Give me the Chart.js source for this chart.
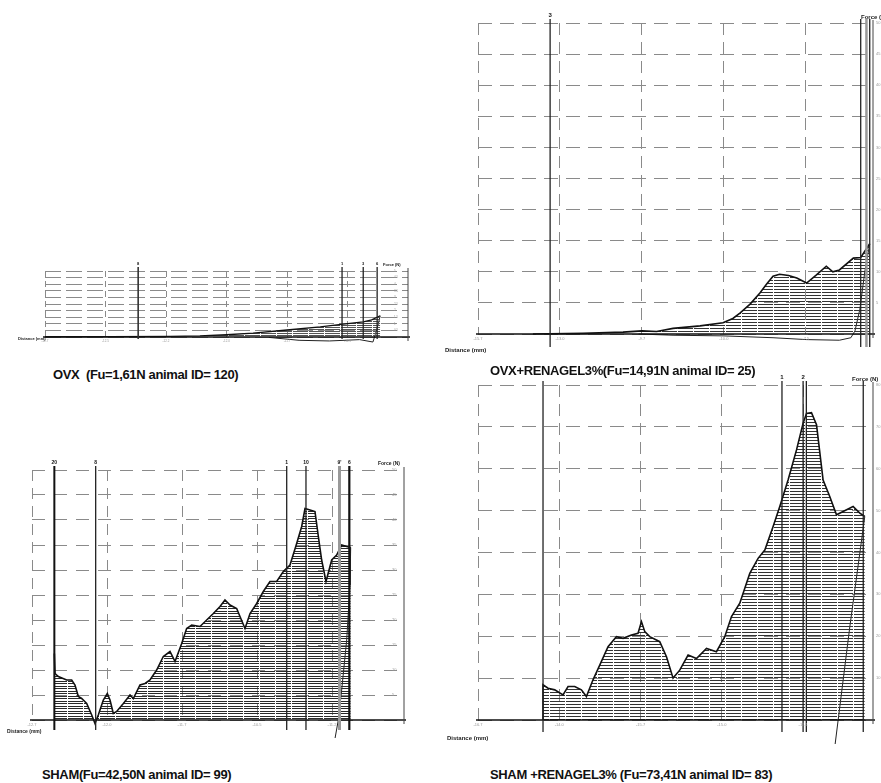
<!DOCTYPE html>
<html>
<head>
<meta charset="utf-8">
<script src="https://cdn.jsdelivr.net/npm/chart.js@4.4.0/dist/chart.umd.min.js"></script>
<style>
  body { margin: 0; background: #fff; width: 881px; height: 783px; position: relative; overflow: hidden;
         font-family: "Liberation Sans", Arial, sans-serif; }
  canvas { position: absolute; }
  .title { position: absolute; font-weight: bold; font-size: 13px; white-space: nowrap; color: #111; letter-spacing: -0.35px; }
</style>
</head>
<body>
<canvas id="ovx"></canvas>
<canvas id="ovxRen"></canvas>
<canvas id="sham"></canvas>
<canvas id="shamRen"></canvas>
<div class="title" style="left:53px;top:367px">OVX&nbsp; (Fu=1,61N animal ID= 120)</div>
<div class="title" style="left:490px;top:363px">OVX+RENAGEL3%(Fu=14,91N animal ID= 25)</div>
<div class="title" style="left:42px;top:767px">SHAM(Fu=42,50N animal ID= 99)</div>
<div class="title" style="left:490px;top:767px">SHAM +RENAGEL3% (Fu=73,41N animal ID= 83)</div>
<script>
// OVX (Fu=1,61N) - distance in grid units, force in N
const ovxDist = [0, 1.07, 2.07, 2.56, 3.0, 3.44, 4.0, 4.55, 4.93, 5.26, 5.40, 5.54];
const ovxForce = [0.02, 0.03, 0.05, 0.08, 0.17, 0.3, 0.53, 0.76, 0.98, 1.14, 1.3, 1.61];
const ovxBackDist = [5.54, 5.51, 5.46, 5.42, 5.2, 4.7, 4.2, 3.7];
const ovxBackForce = [1.61, 1.0, 0.2, -0.38, -0.2, -0.3, -0.25, -0.03];
const ovxMarks = [1.54, 4.91, 5.26, 5.49];
const ovxMarkLabels = ['8', '1', '3', '6'];
const ovxXGrid = [0, 1, 2, 3, 4, 5];
const ovxYTicks = [0, 0.5, 1, 1.5, 2, 2.5, 3, 3.5, 4, 4.5, 5];

// OVX+RENAGEL3% (Fu=14,91N)
const renDist = [0.67, 1.28, 1.77, 2.0, 2.18, 2.38, 2.71, 2.99, 3.11, 3.20, 3.32, 3.44, 3.52, 3.60, 3.68, 3.79, 3.89, 4.01, 4.13, 4.25, 4.33, 4.41, 4.58, 4.67, 4.78];
const renForce = [0, 0.1, 0.3, 0.5, 0.4, 0.9, 1.3, 1.8, 2.5, 3.4, 4.8, 6.6, 8.0, 9.3, 9.6, 9.4, 9.0, 8.2, 9.5, 10.9, 10.0, 10.3, 12.2, 12.3, 14.5];
const renBackDist = [4.78, 4.72, 4.66, 4.60, 4.55, 4.41, 4.01, 3.60, 2.99, 2.38, 1.96];
const renBackForce = [14.5, 10, 4, 0.5, -0.6, -1.0, -0.9, -0.6, -0.3, -0.2, 0];
const renMarks = [0.88, 4.67, 4.74, 4.78];
const renMarkLabels = ['3', '', '', ''];
const renXGrid = [0, 1, 2, 3, 4];
const renYTicks = [0, 5, 10, 15, 20, 25, 30, 35, 40, 45, 50];

// SHAM (Fu=42,50N)
const shamDist = [0.298, 0.307, 0.351, 0.462, 0.529, 0.573, 0.618, 0.662, 0.729, 0.796, 0.84, 0.884, 0.951, 1.004, 1.04, 1.084, 1.129, 1.218, 1.307, 1.351, 1.44, 1.507, 1.573, 1.662, 1.751, 1.84, 1.907, 1.996, 2.062, 2.129, 2.24, 2.329, 2.418, 2.507, 2.573, 2.64, 2.729, 2.773, 2.84, 2.907, 2.996, 3.084, 3.173, 3.262, 3.351, 3.44, 3.529, 3.596, 3.64, 3.707, 3.773, 3.818, 3.862, 3.92, 3.996, 4.062, 4.129, 4.196, 4.249];
const shamForce = [13.3, 9.3, 8.7, 8.0, 8.0, 7.0, 4.7, 4.3, 3.3, 1.0, -0.7, 1.0, 4.0, 5.3, 4.0, 1.3, 1.7, 3.3, 5.0, 4.3, 7.0, 7.3, 8.0, 10.0, 12.7, 13.7, 11.7, 15.3, 18.3, 19.0, 18.7, 20.0, 21.3, 22.7, 24.0, 23.0, 22.3, 20.7, 18.3, 21.3, 23.3, 25.7, 27.7, 27.7, 29.7, 31.0, 35.3, 38.7, 42.3, 42.0, 41.7, 36.7, 32.0, 27.7, 32.0, 33.0, 35.0, 34.7, 34.5];
const shamBackDist = [4.249, 4.24, 4.196, 4.129, 4.084, 4.04];
const shamBackForce = [34.5, 27, 16, 6, 0, -3.7];
const shamMarks = [0.298, 0.849, 3.396, 3.653, 4.1, 4.231];
const shamMarkLabels = ['20', '8', '1', '10', "9'", '6'];
const shamXGrid = [0, 1, 2, 3, 4];
const shamYTicks = [0, 5, 10, 15, 20, 25, 30, 35, 40, 45, 50];

// SHAM +RENAGEL3% (Fu=73,41N)
const shRenDist = [0.80, 0.80, 0.862, 0.944, 1.046, 1.108, 1.19, 1.272, 1.334, 1.415, 1.498, 1.6, 1.703, 1.785, 1.888, 1.969, 2.011, 2.052, 2.113, 2.236, 2.319, 2.4, 2.482, 2.585, 2.688, 2.811, 2.934, 3.036, 3.119, 3.221, 3.344, 3.446, 3.529, 3.631, 3.713, 3.815, 3.919, 4.0, 4.042, 4.103, 4.165, 4.246, 4.329, 4.411, 4.492, 4.615, 4.698, 4.759];
const shRenForce = [0, 8.4, 7.6, 7.2, 6.0, 8.0, 8.0, 7.2, 5.6, 9.6, 13.1, 17.5, 19.9, 19.5, 20.3, 20.7, 23.5, 21.1, 19.9, 18.7, 15.1, 10.0, 11.9, 15.5, 14.7, 17.1, 16.3, 19.9, 24.7, 27.9, 35.0, 38.6, 40.6, 46.2, 51.0, 57.3, 64.5, 70.9, 73.2, 73.4, 70.5, 57.3, 53.3, 49.0, 49.8, 51.0, 49.4, 48.6];
const shRenBackDist = [4.759, 4.575, 4.39];
const shRenBackForce = [48.6, 22.3, -6.4];
const shRenMarks = [0.80, 3.74, 4.0, 4.04, 4.74];
const shRenMarkLabels = ['', '1', '2', '', ''];
const shRenXGrid = [0, 1, 2, 3, 4];
const shRenYTicks = [0, 10, 20, 30, 40, 50, 60, 70, 80];

// tiny axis tick texts (barely legible in the scan)
const ovxXLabels = ['-12.7', '-12.5', '-12.2', '-12.0', '-11.7', '-11.5'];
const renXLabels = ['-15.7', '-13.0', '-9.7', '-10.0', '-7.5'];
const shamXLabels = ['-12.7', '-12.0', '-11.7', '-10.5', '-11.2'];
const shRenXLabels = ['-16.7', '-14.0', '-15.7', '-15.0', '-12.1'];

function pts(xs, ys) { return xs.map((x, i) => ({ x: x, y: ys[i] })); }

// horizontal-line hatching used under the curves
function hatch(rows, h, color) {
  const c = document.createElement('canvas');
  c.width = 16; c.height = h;
  const g = c.getContext('2d');
  g.fillStyle = color;
  rows.forEach(r => g.fillRect(0, r, 15, 1));
  return g.createPattern(c, 'repeat');
}

function decor(o) {
  return {
    id: 'decor',
    afterDatasetsDraw(chart) {
      const ctx = chart.ctx, a = chart.chartArea;
      const xs = chart.scales.x, ys = chart.scales.y;
      const y0 = ys.getPixelForValue(0);
      ctx.save();
      // base line and right axis
      ctx.strokeStyle = '#111'; ctx.lineWidth = 1.4;
      ctx.beginPath(); ctx.moveTo(a.left - 2, y0); ctx.lineTo(a.right + 2, y0); ctx.stroke();
      ctx.strokeStyle = '#444'; ctx.lineWidth = 1;
      ctx.beginPath(); ctx.moveTo(a.right, a.top - 3); ctx.lineTo(a.right, a.bottom + 4); ctx.stroke();
      // event markers
      o.marks.forEach((m, i) => {
        const st = o.markStyle[i] || { w: 1.3, c: '#222' };
        const px = xs.getPixelForValue(m);
        ctx.strokeStyle = st.c; ctx.lineWidth = st.w;
        ctx.beginPath(); ctx.moveTo(px, a.top - 4); ctx.lineTo(px, a.bottom + o.markDrop); ctx.stroke();
        if (o.markLabels[i]) {
          ctx.fillStyle = '#111'; ctx.font = 'bold ' + o.markFont + 'px "Liberation Sans"';
          ctx.textAlign = 'center'; ctx.textBaseline = 'bottom';
          ctx.fillText(o.markLabels[i], px, a.top - 5);
        }
      });
      // y tick texts on the right
      ctx.fillStyle = '#999'; ctx.font = o.tickFont + 'px "Liberation Sans"';
      ctx.textAlign = 'left'; ctx.textBaseline = 'middle';
      o.yTicks.forEach(v => {
        if (v === 0) return;
        ctx.fillText(String(v), a.right + o.yLabelDx, ys.getPixelForValue(v));
      });
      // x tick texts under the base line
      ctx.textAlign = 'center'; ctx.textBaseline = 'top';
      o.xGrid.forEach((v, i) => {
        ctx.fillText(o.xLabels[i] || '', xs.getPixelForValue(v), a.bottom + 3);
      });
      // axis names
      ctx.fillStyle = '#222'; ctx.font = 'bold ' + o.nameFont + 'px "Liberation Sans"';
      ctx.textAlign = 'left'; ctx.textBaseline = 'middle';
      ctx.fillText('Distance (mm)', a.left + o.distDx, a.bottom + o.distDy);
      ctx.fillText('Force (N)', a.right + o.forceDx, a.top - 6);
      ctx.restore();
    }
  };
}

function makeChart(id, box, m, d) {
  const cv = document.getElementById(id);
  const w = box.right - box.left + m.l + m.r, h = box.bottom - box.top + m.t + m.b;
  cv.width = w; cv.height = h;
  cv.style.left = (box.left - m.l) + 'px'; cv.style.top = (box.top - m.t) + 'px';
  cv.style.width = w + 'px'; cv.style.height = h + 'px';
  const grid = { color: '#8a8a8a', lineWidth: 1, drawTicks: false };
  return new Chart(cv, {
    type: 'line',
    data: {
      datasets: [
        { data: pts(d.x, d.y), borderColor: '#111', borderWidth: d.lw, backgroundColor: d.hatch,
          fill: 'origin', pointRadius: 0, tension: 0, clip: false },
        { data: pts(d.bx, d.by), borderColor: '#222', borderWidth: 1, fill: false,
          pointRadius: 0, tension: 0, clip: false }
      ]
    },
    options: {
      responsive: false, animation: false, devicePixelRatio: 1,
      layout: { padding: { left: m.l, top: m.t, right: m.r, bottom: m.b } },
      plugins: { legend: { display: false }, tooltip: { enabled: false } },
      scales: {
        x: { type: 'linear', min: 0, max: d.xmax,
             afterBuildTicks: s => { s.ticks = d.xGrid.map(v => ({ value: v })); },
             ticks: { display: false }, grid: grid, border: { display: false, dash: d.vDash } },
        y: { type: 'linear', min: d.yTicks[0], max: d.yTicks[d.yTicks.length - 1],
             afterBuildTicks: s => { s.ticks = d.yTicks.map(v => ({ value: v })); },
             ticks: { display: false }, grid: grid, border: { display: false, dash: d.hDash } }
      }
    },
    plugins: [decor(d.decor)]
  });
}

const thin = { w: 1.3, c: '#222' };

makeChart('ovx', { left: 45, top: 271, right: 408, bottom: 337 }, { l: 40, t: 14, r: 20, b: 14 }, {
  x: ovxDist, y: ovxForce, bx: ovxBackDist, by: ovxBackForce, xmax: 6, lw: 1.3,
  xGrid: ovxXGrid, yTicks: ovxYTicks, hatch: hatch([0], 2, '#555'), vDash: [6, 4], hDash: [16, 5],
  decor: { marks: ovxMarks, markLabels: ovxMarkLabels, markStyle: [{ w: 1.6, c: '#333' }, thin, thin, thin],
           markDrop: 2, markFont: 4, tickFont: 3, yLabelDx: -14, xGrid: ovxXGrid, xLabels: ovxXLabels, yTicks: ovxYTicks,
           nameFont: 4, distDx: -27, distDy: 2, forceDx: -25 }
});

makeChart('ovxRen', { left: 478, top: 23, right: 873, bottom: 334 }, { l: 40, t: 16, r: 8, b: 22 }, {
  x: renDist, y: renForce, bx: renBackDist, by: renBackForce, xmax: 4.82, lw: 1.6,
  xGrid: renXGrid, yTicks: renYTicks, hatch: hatch([0], 3, '#333'), vDash: [12, 7], hDash: [14, 8],
  decor: { marks: renMarks, markLabels: renMarkLabels, markStyle: [thin, thin, { w: 2.5, c: '#999' }, thin],
           markDrop: 13, markFont: 6, tickFont: 4, yLabelDx: 3, xGrid: renXGrid, xLabels: renXLabels, yTicks: renYTicks,
           nameFont: 6, distDx: -33, distDy: 16, forceDx: -12 }
});

makeChart('sham', { left: 32, top: 470, right: 404, bottom: 720 }, { l: 28, t: 14, r: 20, b: 18 }, {
  x: shamDist, y: shamForce, bx: shamBackDist, by: shamBackForce, xmax: 4.96, lw: 1.6,
  xGrid: shamXGrid, yTicks: shamYTicks, hatch: hatch([0, 2], 5, '#2a2a2a'), vDash: [11, 7], hDash: [13, 9],
  decor: { marks: shamMarks, markLabels: shamMarkLabels,
           markStyle: [{ w: 2, c: '#111' }, thin, thin, thin, { w: 3, c: '#999' }, { w: 2.2, c: '#111' }],
           markDrop: 10, markFont: 5, tickFont: 4, yLabelDx: -12, xGrid: shamXGrid, xLabels: shamXLabels, yTicks: shamYTicks,
           nameFont: 5, distDx: -25, distDy: 12, forceDx: -26 }
});

makeChart('shamRen', { left: 478, top: 385, right: 873, bottom: 720 }, { l: 40, t: 14, r: 8, b: 24 }, {
  x: shRenDist, y: shRenForce, bx: shRenBackDist, by: shRenBackForce, xmax: 4.86, lw: 1.6,
  xGrid: shRenXGrid, yTicks: shRenYTicks, hatch: hatch([0], 3, '#333'), vDash: [12, 7], hDash: [14, 8],
  decor: { marks: shRenMarks, markLabels: shRenMarkLabels, markStyle: [thin, thin, thin, thin, thin],
           markDrop: 12, markFont: 6, tickFont: 4, yLabelDx: 3, xGrid: shRenXGrid, xLabels: shRenXLabels, yTicks: shRenYTicks,
           nameFont: 6, distDx: -31, distDy: 18, forceDx: -21 }
});
</script>
</body>
</html>
